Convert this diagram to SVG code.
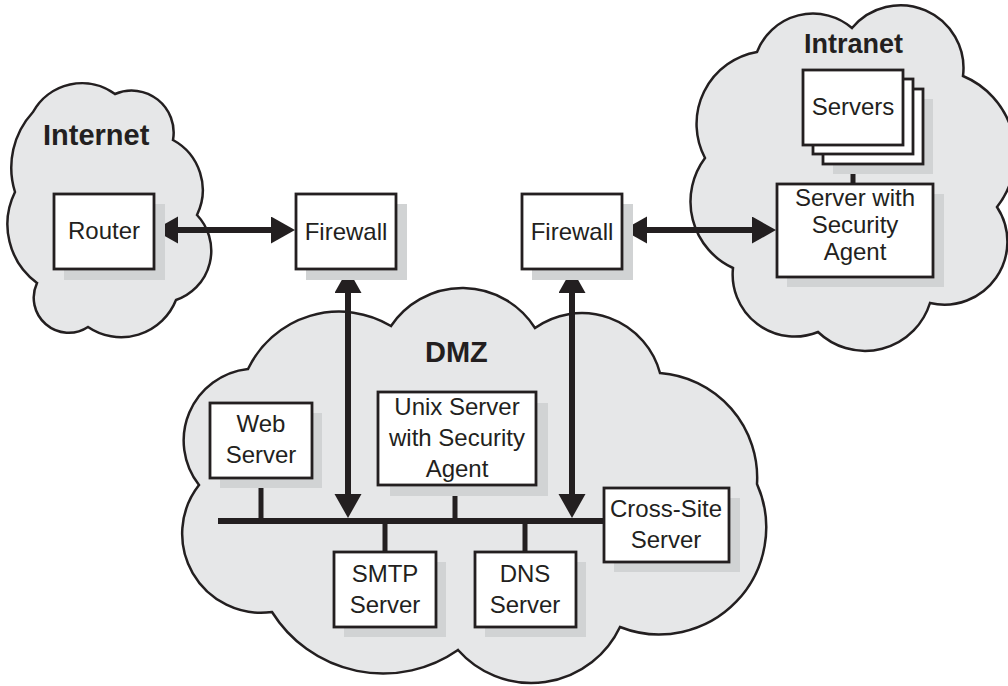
<svg xmlns="http://www.w3.org/2000/svg" width="1008" height="686" viewBox="0 0 1008 686">
  <style>
    .cloud { fill: #e6e7e8; stroke: #231f20; stroke-width: 2.5; stroke-linejoin: miter; }
    .shadow { fill: #d1d3d4; }
    .box { fill: #ffffff; stroke: #231f20; stroke-width: 2.8; }
    .label { font-family: "Liberation Sans", Arial, sans-serif; font-size: 24px; fill: #231f20; text-anchor: middle; }
    .title { font-family: "Liberation Sans", Arial, sans-serif; font-size: 29px; font-weight: bold; fill: #231f20; }
    .arrow { stroke: #231f20; stroke-width: 6; fill: none; marker-start: url(#head); marker-end: url(#head); }
    .wire { stroke: #231f20; stroke-width: 5; fill: none; }
    .bus { stroke: #231f20; stroke-width: 6; fill: none; }
  </style>
  <defs>
    <marker id="head" markerUnits="userSpaceOnUse" markerWidth="25" markerHeight="28" refX="0" refY="13.5" orient="auto-start-reverse">
      <path d="M0,0 L24,13.5 L0,27 Z" fill="#231f20"/>
    </marker>
  </defs>

  <rect width="1008" height="686" fill="#ffffff"/>

  <!-- network zones -->
  <g id="internet">
    <path class="cloud" d="M33,112 A56,56 0 0 1 115,94 A42,42 0 0 1 173,140 A57,57 0 0 1 197,215 A52,52 0 0 1 176,300 A59,59 0 0 1 88,327 A35,35 0 0 1 37,283 A73,73 0 0 1 15,192 A82,82 0 0 1 33,112 Z"/>
    <text class="title" x="43" y="145">Internet</text>
  </g>
  <g id="intranet">
    <path class="cloud" d="M705,158 A73,73 0 0 1 757,52 A60,60 0 0 1 852,28 A63,63 0 0 1 963,76 A85,85 0 0 1 997,207 A63,63 0 0 1 930,303 A68,68 0 0 1 818,332 A62,62 0 0 1 733,268 A73,73 0 0 1 705,158 Z"/>
    <text class="title" x="804" y="53" style="font-size:27px">Intranet</text>
  </g>
  <g id="dmz">
    <path class="cloud" d="M199,485 A72,72 0 0 1 248,369 A101,101 0 0 1 391,326 A86,86 0 0 1 535,328 A81,81 0 0 1 660,373 A105,105 0 0 1 757,484 A107,107 0 0 1 620,627 A98,98 0 0 1 458,650 A131,131 0 0 1 272,612 A79,79 0 0 1 199,485 Z"/>
    <text class="title" x="425" y="362">DMZ</text>
  </g>

  <!-- links -->
  <g id="connectors">
    <line class="arrow" x1="178" y1="230" x2="271" y2="230"/>
    <line class="arrow" x1="647" y1="230" x2="752" y2="230"/>
    <line class="arrow" x1="348" y1="293" x2="348" y2="494"/>
    <line class="arrow" x1="572" y1="293" x2="572" y2="494"/>
    <line class="bus" x1="218" y1="521" x2="604" y2="521"/>
    <line class="wire" x1="261" y1="478" x2="261" y2="521"/>
    <line class="wire" x1="455" y1="485" x2="455" y2="521"/>
    <line class="wire" x1="385" y1="521" x2="385" y2="552"/>
    <line class="wire" x1="525" y1="521" x2="525" y2="552"/>
    <line class="wire" x1="853" y1="164" x2="853" y2="184"/>
  </g>

  <!-- devices -->
  <g id="router">
    <rect class="shadow" x="64" y="204" width="101" height="76"/>
    <rect class="box" x="54" y="194" width="100" height="75"/>
    <text class="label" x="104" y="239">Router</text>
  </g>
  <g id="firewall-outer">
    <rect class="shadow" x="306" y="204" width="101" height="76"/>
    <rect class="box" x="296" y="194" width="100" height="75"/>
    <text class="label" x="346" y="240">Firewall</text>
  </g>
  <g id="firewall-inner">
    <rect class="shadow" x="532" y="204" width="101" height="76"/>
    <rect class="box" x="522" y="194" width="100" height="75"/>
    <text class="label" x="572" y="240">Firewall</text>
  </g>
  <g id="servers">
    <rect class="shadow" x="833" y="99" width="100" height="75"/>
    <rect class="box" x="823" y="89" width="100" height="75"/>
    <rect class="box" x="813" y="79" width="100" height="75"/>
    <rect class="box" x="803" y="70" width="100" height="75"/>
    <text class="label" x="853" y="115">Servers</text>
  </g>
  <g id="agent-server">
    <rect class="shadow" x="787" y="194" width="157" height="93"/>
    <rect class="box" x="777" y="184" width="156" height="93"/>
    <text class="label" x="855" y="206">Server with</text>
    <text class="label" x="855" y="233">Security</text>
    <text class="label" x="855" y="260">Agent</text>
  </g>
  <g id="web-server">
    <rect class="shadow" x="220" y="413" width="102" height="75"/>
    <rect class="box" x="210" y="403" width="102" height="75"/>
    <text class="label" x="261" y="432">Web</text>
    <text class="label" x="261" y="463">Server</text>
  </g>
  <g id="unix-server">
    <rect class="shadow" x="390" y="403" width="158" height="93"/>
    <rect class="box" x="378" y="392" width="158" height="93"/>
    <text class="label" x="457" y="415">Unix Server</text>
    <text class="label" x="457" y="446">with Security</text>
    <text class="label" x="457" y="477">Agent</text>
  </g>
  <g id="smtp-server">
    <rect class="shadow" x="344" y="562" width="102" height="75"/>
    <rect class="box" x="334" y="552" width="102" height="75"/>
    <text class="label" x="385" y="582">SMTP</text>
    <text class="label" x="385" y="613">Server</text>
  </g>
  <g id="dns-server">
    <rect class="shadow" x="485" y="562" width="101" height="75"/>
    <rect class="box" x="475" y="552" width="101" height="75"/>
    <text class="label" x="525" y="582">DNS</text>
    <text class="label" x="525" y="613">Server</text>
  </g>
  <g id="cross-site-server">
    <rect class="shadow" x="614" y="498" width="126" height="74"/>
    <rect class="box" x="604" y="488" width="125" height="74"/>
    <text class="label" x="666" y="517">Cross-Site</text>
    <text class="label" x="666" y="548">Server</text>
  </g>
</svg>
